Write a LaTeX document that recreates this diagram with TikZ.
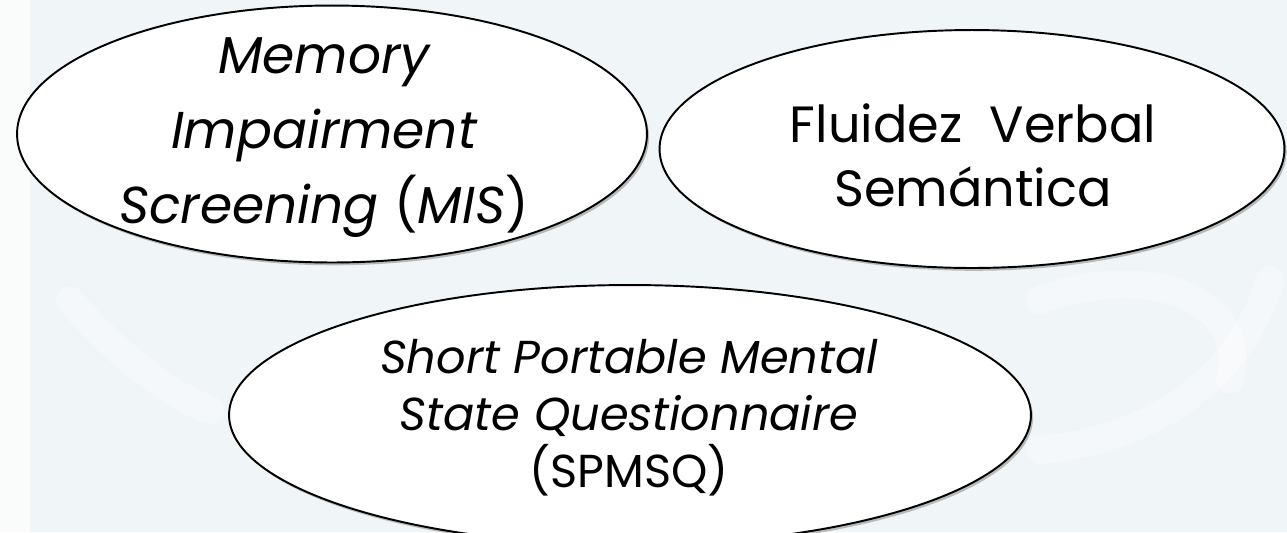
\documentclass[tikz,border=0pt]{standalone}
\usepackage{fontspec}
\setsansfont{Poppins}
\usepackage{tikz}
\usetikzlibrary{shapes.geometric,shadows,positioning}
\definecolor{bgpale}{RGB}{240,245,248}
\tikzset{
  testell/.style={draw, ellipse, fill=white, line width=1.1pt,
                  inner sep=0pt,
                  drop shadow={opacity=0.35, shadow xshift=1.2pt,
                               shadow yshift=-1.6pt, fill=black!70}},
  testtxt/.style={align=center, inner sep=0pt, text=black},
  wmark/.style  ={white, line width=16pt, opacity=0.35, line cap=round},
}
\begin{document}
\begin{tikzpicture}[x=0.02cm, y=-0.02cm]
% background and faint watermark
\fill[bgpale] (0,0) rectangle (1287,532);
\useasboundingbox (0,0) rectangle (1287,532);
\fill[white, opacity=0.7] (0,0) rectangle (30,532);
\draw[wmark] (1040,300) .. controls (1150,260) and (1250,300) .. (1230,380);
\draw[wmark] (1040,450) .. controls (1150,440) and (1240,380) .. (1270,280);
\draw[wmark] (70,300) .. controls (120,360) and (180,400) .. (210,410);
% the three tests
\node[testell, minimum width=12.6cm, minimum height=5.14cm] (mis) at (332,134) {};
\node[testell, minimum width=12.5cm, minimum height=4.76cm] (fvs) at (972,149) {};
\node[testell, minimum width=16.04cm, minimum height=5.2cm] (spmsq) at (630,415) {};
\node[testtxt, font=\sffamily\fontsize{29.5pt}{42.7pt}\selectfont] (mistxt) at (324,138)
  {\itshape Memory\\ \itshape Impairment\\ \itshape Screening \upshape(\itshape MIS\upshape)};
\node[testtxt, font=\sffamily\fontsize{29pt}{36.4pt}\selectfont] (fvstxt) at (973,155)
  {Fluidez\ \ Verbal\\ Semántica};
\node[testtxt, font=\sffamily\fontsize{26.3pt}{32.4pt}\selectfont] (spmsqtxt) at (629,418)
  {\itshape Short Portable Mental\\ \itshape State Questionnaire\\ (SPMSQ)};
\end{tikzpicture}
\end{document}
